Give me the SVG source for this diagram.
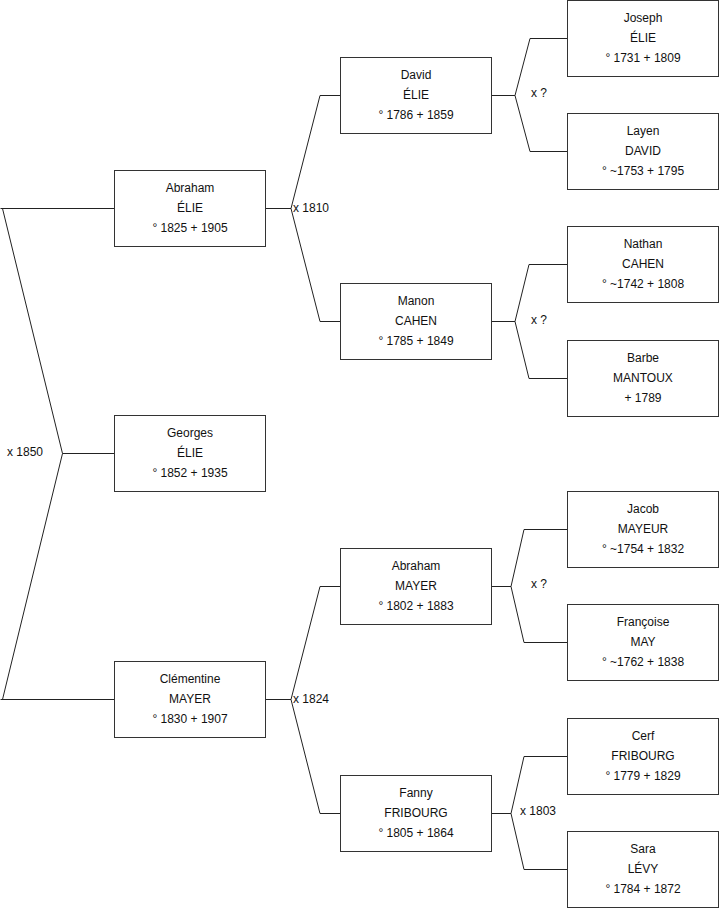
<svg xmlns="http://www.w3.org/2000/svg" width="719" height="908" viewBox="0 0 719 908">
<style>
.box{fill:#fff;stroke:#333;stroke-width:1}
.t{font-family:"Liberation Sans",Arial,sans-serif;font-size:12px;fill:#111;text-anchor:middle}
.l{font-family:"Liberation Sans",Arial,sans-serif;font-size:12px;fill:#111}
.c{fill:none;stroke:#222;stroke-width:1}
</style>
<rect width="719" height="908" fill="#fff"/>
<g id="connectors">
<path class="c" d="M0.5,208.5 H114.5 M2.5,208.5 L62.5,453.5 L2.5,699.5 M62.5,453.5 H114.5 M0.5,699.5 H114.5"/>
<path class="c" d="M265.5,208.5 H291 L320,95.5 H340.5 M291,208.5 L320,321.5 H340.5"/>
<path class="c" d="M265.5,699.5 H291 L320,586.5 H340.5 M291,699.5 L320,813.5 H340.5"/>
<path class="c" d="M491.5,95.5 H515 L530,38.5 H567.5 M515,95.5 L530,151.5 H567.5"/>
<path class="c" d="M491.5,321.5 H515 L529,264.5 H567.5 M515,321.5 L529,378.5 H567.5"/>
<path class="c" d="M491.5,586.5 H511 L524,529.5 H567.5 M511,586.5 L524,642.5 H567.5"/>
<path class="c" d="M491.5,813.5 H511 L524,756.5 H567.5 M511,813.5 L524,869.5 H567.5"/>
<text class="l" x="7" y="456">x 1850</text>
<text class="l" x="293" y="212">x 1810</text>
<text class="l" x="293" y="703">x 1824</text>
<text class="l" x="531" y="97">x ?</text>
<text class="l" x="531" y="324">x ?</text>
<text class="l" x="531" y="588">x ?</text>
<text class="l" x="520" y="815">x 1803</text>
</g>
<g id="abraham-elie"><rect class="box" x="114.5" y="170.5" width="151" height="76"/><text class="t" x="190" y="191.5">Abraham</text><text class="t" x="190" y="211.5">ÉLIE</text><text class="t" x="190" y="231.5">° 1825 + 1905</text></g>
<g id="georges-elie"><rect class="box" x="114.5" y="415.5" width="151" height="76"/><text class="t" x="190" y="436.5">Georges</text><text class="t" x="190" y="456.5">ÉLIE</text><text class="t" x="190" y="476.5">° 1852 + 1935</text></g>
<g id="clementine-mayer"><rect class="box" x="114.5" y="661.5" width="151" height="76"/><text class="t" x="190" y="682.5">Clémentine</text><text class="t" x="190" y="702.5">MAYER</text><text class="t" x="190" y="722.5">° 1830 + 1907</text></g>
<g id="david-elie"><rect class="box" x="340.5" y="57.5" width="151" height="76"/><text class="t" x="416" y="78.5">David</text><text class="t" x="416" y="98.5">ÉLIE</text><text class="t" x="416" y="118.5">° 1786 + 1859</text></g>
<g id="manon-cahen"><rect class="box" x="340.5" y="283.5" width="151" height="76"/><text class="t" x="416" y="304.5">Manon</text><text class="t" x="416" y="324.5">CAHEN</text><text class="t" x="416" y="344.5">° 1785 + 1849</text></g>
<g id="abraham-mayer"><rect class="box" x="340.5" y="548.5" width="151" height="76"/><text class="t" x="416" y="569.5">Abraham</text><text class="t" x="416" y="589.5">MAYER</text><text class="t" x="416" y="609.5">° 1802 + 1883</text></g>
<g id="fanny-fribourg"><rect class="box" x="340.5" y="775.5" width="151" height="76"/><text class="t" x="416" y="796.5">Fanny</text><text class="t" x="416" y="816.5">FRIBOURG</text><text class="t" x="416" y="836.5">° 1805 + 1864</text></g>
<g id="joseph-elie"><rect class="box" x="567.5" y="0.5" width="151" height="76"/><text class="t" x="643" y="21.5">Joseph</text><text class="t" x="643" y="41.5">ÉLIE</text><text class="t" x="643" y="61.5">° 1731 + 1809</text></g>
<g id="layen-david"><rect class="box" x="567.5" y="113.5" width="151" height="76"/><text class="t" x="643" y="134.5">Layen</text><text class="t" x="643" y="154.5">DAVID</text><text class="t" x="643" y="174.5">° ~1753 + 1795</text></g>
<g id="nathan-cahen"><rect class="box" x="567.5" y="226.5" width="151" height="76"/><text class="t" x="643" y="247.5">Nathan</text><text class="t" x="643" y="267.5">CAHEN</text><text class="t" x="643" y="287.5">° ~1742 + 1808</text></g>
<g id="barbe-mantoux"><rect class="box" x="567.5" y="340.5" width="151" height="76"/><text class="t" x="643" y="361.5">Barbe</text><text class="t" x="643" y="381.5">MANTOUX</text><text class="t" x="643" y="401.5">+ 1789</text></g>
<g id="jacob-mayeur"><rect class="box" x="567.5" y="491.5" width="151" height="76"/><text class="t" x="643" y="512.5">Jacob</text><text class="t" x="643" y="532.5">MAYEUR</text><text class="t" x="643" y="552.5">° ~1754 + 1832</text></g>
<g id="francoise-may"><rect class="box" x="567.5" y="604.5" width="151" height="76"/><text class="t" x="643" y="625.5">Françoise</text><text class="t" x="643" y="645.5">MAY</text><text class="t" x="643" y="665.5">° ~1762 + 1838</text></g>
<g id="cerf-fribourg"><rect class="box" x="567.5" y="718.5" width="151" height="76"/><text class="t" x="643" y="739.5">Cerf</text><text class="t" x="643" y="759.5">FRIBOURG</text><text class="t" x="643" y="779.5">° 1779 + 1829</text></g>
<g id="sara-levy"><rect class="box" x="567.5" y="831.5" width="151" height="76"/><text class="t" x="643" y="852.5">Sara</text><text class="t" x="643" y="872.5">LÉVY</text><text class="t" x="643" y="892.5">° 1784 + 1872</text></g>
</svg>
